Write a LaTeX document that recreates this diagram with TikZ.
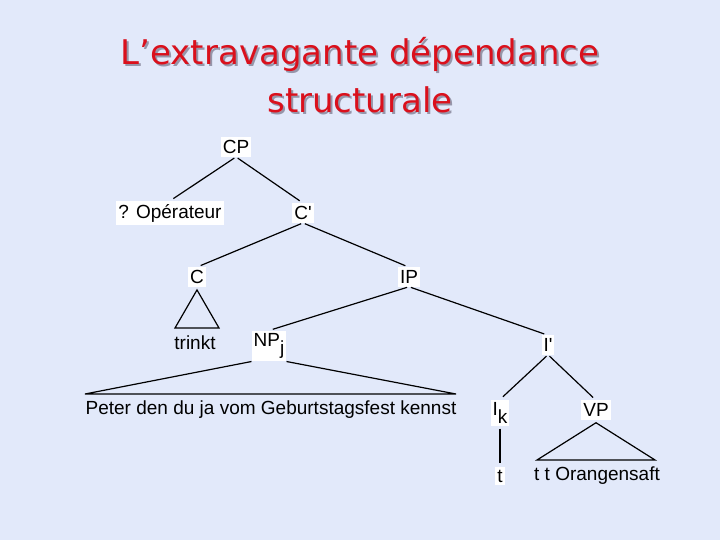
\documentclass[tikz,border=0pt]{standalone}
\usepackage{fontspec}
\setmainfont{Liberation Sans}
\newfontfamily\titlefont{DejaVu Sans}
\definecolor{bgblue}{RGB}{226,233,250}
\definecolor{titlered}{RGB}{218,16,28}
\definecolor{shadowgray}{RGB}{150,150,170}
\newcommand{\shadowtext}[1]{\makebox[0pt][l]{\kern2pt\raisebox{-2pt}{\textcolor{shadowgray}{#1}}}\textcolor{titlered}{#1}}
\begin{document}
\begin{tikzpicture}[x=1pt,y=-1pt,
  lab/.style={fill=white,inner xsep=2pt,inner ysep=3pt,font=\fontsize{19}{22}\selectfont},
  plain/.style={inner sep=1pt,font=\fontsize{19}{22}\selectfont},
  ttl/.style={inner sep=0pt,font=\titlefont\fontsize{34}{38}\selectfont},
  br/.style={line width=1.2pt,shorten <=2pt,shorten >=4pt},
  tri/.style={line width=1.2pt,line join=miter}]
\useasboundingbox (0,0) rectangle (720,540);
\fill[bgblue] (0,0) rectangle (720,540);
% title
\node[ttl] (t1) at (360,55) {\shadowtext{L’extravagante dépendance}};
\node[ttl] (t2) at (360,101) {\shadowtext{structurale}};
% tree nodes
\node[lab] (cp) at (236,147) {CP};
\node[lab] (op) at (170,213) {? Opérateur};
\node[lab] (cb) at (303,213) {C\textquotesingle};
\node[lab] (c) at (197,277) {C};
\node[lab] (ip) at (409,277) {IP};
\node[plain] (trinkt) at (195,343) {trinkt};
\node[lab] (np) at (269,346) {NP\raisebox{-0.4em}{j}};
\node[lab] (ib) at (548,345) {I\textquotesingle};
\node[plain] (peter) at (271,410) {Peter den du ja vom Geburtstagsfest kennst};
\node[lab] (ik) at (500,413) {I\raisebox{-0.4em}{k}};
\node[lab] (vp) at (596,410) {VP};
\node[lab] (t) at (500,476) {t};
\node[plain] (tto) at (597,476) {t t Orangensaft};
% branches
\draw[br] (cp.south) -- (op.north);
\draw[br] (cp.south) -- (cb.north);
\draw[br] (cb.south) -- (c.north);
\draw[br] (cb.south) -- (ip.north);
\draw[br] (ip.south) -- (np.north);
\draw[br] (ip.south) -- (ib.north);
\draw[br] (ib.south) -- (ik.north);
\draw[br] (ib.south) -- (vp.north);
\draw[br] (ik.south) -- (t.north);
% triangles
\coordinate (cl) at (175,328);
\coordinate (cr) at (219,328);
\draw[tri] ([yshift=-3pt]c.south) -- (cl) -- (cr) -- cycle;
\coordinate (npl) at (85,394);
\coordinate (npr) at (456,394);
\draw[tri] (np.south west) -- (npl) -- (npr) -- (np.south east);
\coordinate (vpl) at (537,460);
\coordinate (vpr) at (655,460);
\draw[tri] ([yshift=-3pt]vp.south) -- (vpl) -- (vpr) -- cycle;
\end{tikzpicture}
\end{document}
